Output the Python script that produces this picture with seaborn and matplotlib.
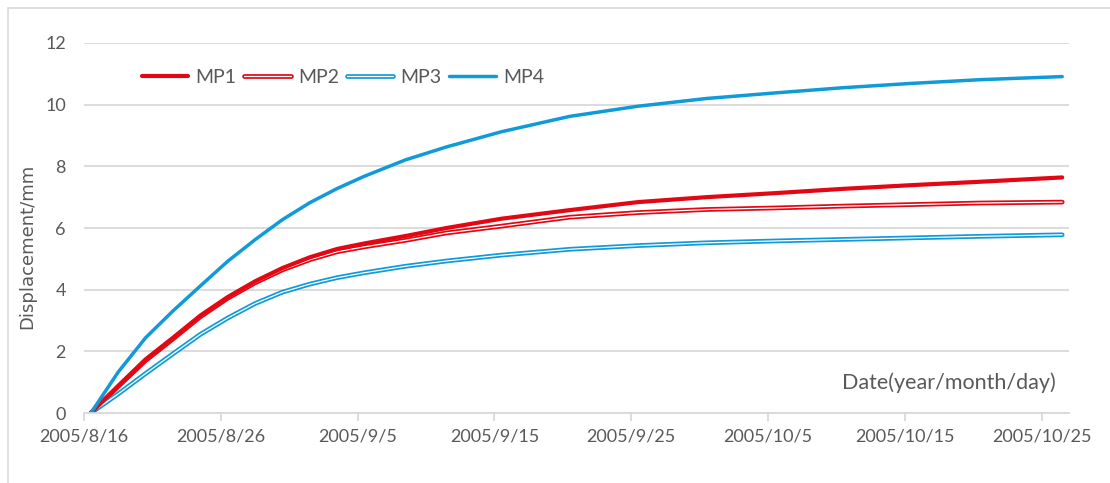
import pandas as pd
import matplotlib
matplotlib.use('Agg')
import matplotlib.pyplot as plt
from matplotlib.lines import Line2D
from matplotlib.legend_handler import HandlerTuple
from matplotlib.patches import Rectangle
import seaborn as sns

# --- Data ---
# days counted from 2005/8/16
DAYS = [0, 2, 4, 6, 8, 10, 12, 14, 16, 18, 20, 23, 26, 30, 35, 40, 45, 50, 55, 60, 65, 71]
MP1 = [0, 0.88, 1.74, 2.44, 3.16, 3.76, 4.27, 4.70, 5.05, 5.32, 5.50, 5.74, 6.00, 6.30, 6.58,
       6.84, 7.00, 7.13, 7.27, 7.39, 7.50, 7.64]
MP2 = [0, 0.86, 1.70, 2.40, 3.12, 3.72, 4.22, 4.64, 4.97, 5.23, 5.39, 5.60, 5.84, 6.06, 6.35,
       6.50, 6.60, 6.65, 6.71, 6.76, 6.81, 6.84]
MP3 = [0, 0.62, 1.28, 1.92, 2.55, 3.08, 3.55, 3.92, 4.18, 4.39, 4.55, 4.76, 4.93, 5.12, 5.31,
       5.43, 5.52, 5.58, 5.63, 5.68, 5.73, 5.78]
MP4 = [0, 1.33, 2.44, 3.31, 4.12, 4.92, 5.62, 6.27, 6.82, 7.28, 7.68, 8.21, 8.63, 9.12, 9.62,
       9.95, 10.20, 10.38, 10.55, 10.69, 10.81, 10.91]

TICK_DAYS = [0, 10, 20, 30, 40, 50, 60, 70]
TICK_LABELS = ['2005/8/16', '2005/8/26', '2005/9/5', '2005/9/15',
               '2005/9/25', '2005/10/5', '2005/10/15', '2005/10/25']
Y_TICKS = [0, 2, 4, 6, 8, 10, 12]

RED = '#E30613'
BLUE = '#109BD8'
GRID = '#D9D9D9'
TEXT = '#595959'

# --- Style ---
sns.set_theme(style='white')
plt.rcParams['font.family'] = ['Lato', 'DejaVu Sans']

fig = plt.figure(figsize=(11.1, 4.83), dpi=100)
ax = fig.add_axes([0.0757, 0.1449, 0.8874, 0.7661])

df = pd.DataFrame({'day': DAYS, 'MP1': MP1, 'MP2': MP2, 'MP3': MP3, 'MP4': MP4})

# double lines: wide coloured stroke with a thin white core
sns.lineplot(data=df, x='day', y='MP2', color=RED, linewidth=3.4, ax=ax)
sns.lineplot(data=df, x='day', y='MP2', color='white', linewidth=0.9, ax=ax)
sns.lineplot(data=df, x='day', y='MP3', color=BLUE, linewidth=3.4, ax=ax)
sns.lineplot(data=df, x='day', y='MP3', color='white', linewidth=0.9, ax=ax)
sns.lineplot(data=df, x='day', y='MP1', color=RED, linewidth=3.0, ax=ax)
sns.lineplot(data=df, x='day', y='MP4', color=BLUE, linewidth=2.5, ax=ax)

# Excel-like date axis: data sit in the middle of each day slot
ax.set_xlim(-0.5, 71.5)
ax.set_xticks([d - 0.5 for d in TICK_DAYS])
ax.set_xticklabels(TICK_LABELS)
ax.set_ylim(0, 12)
ax.set_yticks(Y_TICKS)

ax.grid(axis='y', color=GRID, linewidth=1.3)
ax.set_axisbelow(True)
for side in ['left', 'right', 'top']:
    ax.spines[side].set_visible(False)
ax.spines['bottom'].set_color(GRID)
ax.spines['bottom'].set_linewidth(1.3)
ax.tick_params(axis='x', bottom=True, direction='out', length=6, width=1.3,
               color=GRID, labelsize=13, labelcolor=TEXT, pad=5)
ax.tick_params(axis='y', left=False, labelsize=13, labelcolor=TEXT, pad=7)

ax.set_xlabel('')
ax.set_ylabel('Displacement/mm', fontsize=13, color=TEXT, family='DejaVu Sans')
ax.yaxis.set_label_coords(-0.048, 0.45)
ax.text(0.986, 0.081, 'Date(year/month/day)', transform=ax.transAxes,
        ha='right', va='center', fontsize=15.5, color=TEXT)

# legend
h1 = Line2D([], [], color=RED, linewidth=3.0)
h2 = (Line2D([], [], color=RED, linewidth=3.4), Line2D([], [], color='white', linewidth=0.9))
h3 = (Line2D([], [], color=BLUE, linewidth=3.4), Line2D([], [], color='white', linewidth=0.9))
h4 = Line2D([], [], color=BLUE, linewidth=2.5)
ax.legend([h1, h2, h3, h4], ['MP1', 'MP2', 'MP3', 'MP4'],
          handler_map={tuple: HandlerTuple(ndivide=1)},
          ncol=4, frameon=False, loc='center left', bbox_to_anchor=(0.0586, 0.907),
          fontsize=14, labelcolor=TEXT, handlelength=2.4, handletextpad=0.36,
          columnspacing=0.4, borderaxespad=0, borderpad=0)

# light chart border
fig.patches.append(Rectangle((0.0072, -0.1), 1.2, 0.9834 + 0.1, transform=fig.transFigure,
                             fill=False, edgecolor=GRID, linewidth=1.2))

plt.savefig('out.png', dpi=100)
plt.close()
